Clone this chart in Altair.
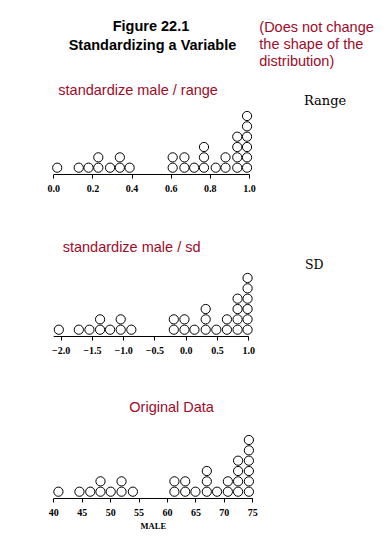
import altair as alt
import pandas as pd

# Column positions and number of stacked dots per column
counts = [1, 1, 1, 2, 1, 2, 1, 2, 2, 1, 3, 1, 2, 4, 6]
range_vals = [0.02, 0.13, 0.18, 0.23, 0.29, 0.34, 0.39, 0.61, 0.67, 0.72, 0.77, 0.83, 0.88, 0.94, 0.99]
sd_vals = [-2.03, -1.71, -1.54, -1.37, -1.21, -1.04, -0.87, -0.19, -0.02, 0.14, 0.32, 0.49, 0.66, 0.83, 0.99]
male_vals = [40.9, 44.6, 46.5, 48.3, 50.1, 52.0, 54.0, 61.3, 63.2, 65.0, 67.0, 68.8, 70.7, 72.5, 74.4]

range_ticks = [0.0, 0.2, 0.4, 0.6, 0.8, 1.0]
sd_ticks = [-2.0, -1.5, -1.0, -0.5, 0.0, 0.5, 1.0]
male_ticks = [40, 45, 50, 55, 60, 65, 70, 75]

RED = "#9e0b28"
W = 370


def stacked(vals):
    rows = []
    for v, c in zip(vals, counts):
        for k in range(c):
            rows.append({"v": v, "level": k})
    return pd.DataFrame(rows)


def text(t, x, y, size=14.5, color=RED, font="Liberation Sans", weight="normal", align="left"):
    return alt.Chart(alt.Data(values=[{}])).mark_text(
        text=t, font=font, fontSize=size, color=color, fontWeight=weight,
        align=align, baseline="middle"
    ).encode(x=alt.value(x), y=alt.value(y))


def panel(vals, domain, xrange, ticks, fmt, H, title=None):
    axis = alt.Axis(
        values=ticks, format=fmt, grid=False, domainColor="black", domainWidth=1,
        tickColor="black", tickSize=4, labelFont="Liberation Serif", labelFontWeight="bold",
        labelFontSize=10, labelColor="black", labelPadding=5, labelFlush=False,
        title=title if title else None, titleFont="Liberation Serif", titleFontWeight="bold",
        titleFontSize=8.5, titleColor="black", titlePadding=4,
    ) if title else alt.Axis(
        values=ticks, format=fmt, grid=False, domainColor="black", domainWidth=1,
        tickColor="black", tickSize=4, labelFont="Liberation Serif", labelFontWeight="bold",
        labelFontSize=10, labelColor="black", labelPadding=5, labelFlush=False, title=None,
    )
    dots = alt.Chart(stacked(vals)).mark_point(
        shape="circle", filled=False, size=85, stroke="black", strokeWidth=1, opacity=1
    ).encode(
        x=alt.X("v:Q", scale=alt.Scale(domain=domain, range=xrange, nice=False, zero=False), axis=axis),
        y=alt.Y("level:Q", scale=alt.Scale(domain=[0, 10], range=[H - 6.3, H - 6.3 - 103.4]), axis=None),
    )
    return dots


H1, H2, H3 = 166, 162, 162

p1 = alt.layer(
    panel(range_vals, [0, 1], [45.3, 241], range_ticks, ".1f", H1),
    text("Figure 22.1", 143, 19, size=14.5, color="black", weight="bold", align="center"),
    text("Standardizing a Variable", 144.5, 37.7, size=14.5, color="black", weight="bold", align="center"),
    text("(Does not change", 251.3, 20),
    text("the shape of the", 251.3, 37),
    text("distribution)", 251.3, 54),
    text("standardize male / range", 50.3, 82.7),
    text("Range", 296, 93, size=13, color="black", font="DejaVu Serif"),
).properties(width=W, height=H1)

p2 = alt.layer(
    panel(sd_vals, [-2.12, 1.0], [45.2, 240.2], sd_ticks, ".1f", H2),
    text("standardize male / sd", 54.7, 74.3),
    text("SD", 297, 91, size=12.5, color="black", font="DejaVu Serif"),
).properties(width=W, height=H2)

p3 = alt.layer(
    panel(male_vals, [40, 75], [45.3, 244.3], male_ticks, "d", H3, title="MALE"),
    text("Original Data", 121.3, 72.3),
).properties(width=W, height=H3)

chart = alt.vconcat(p1, p2, p3, spacing=0, bounds="flush").properties(
    padding=0, background="white"
).configure_view(stroke=None)

chart.save("out.html", embed_options={"renderer": "svg", "actions": False})
